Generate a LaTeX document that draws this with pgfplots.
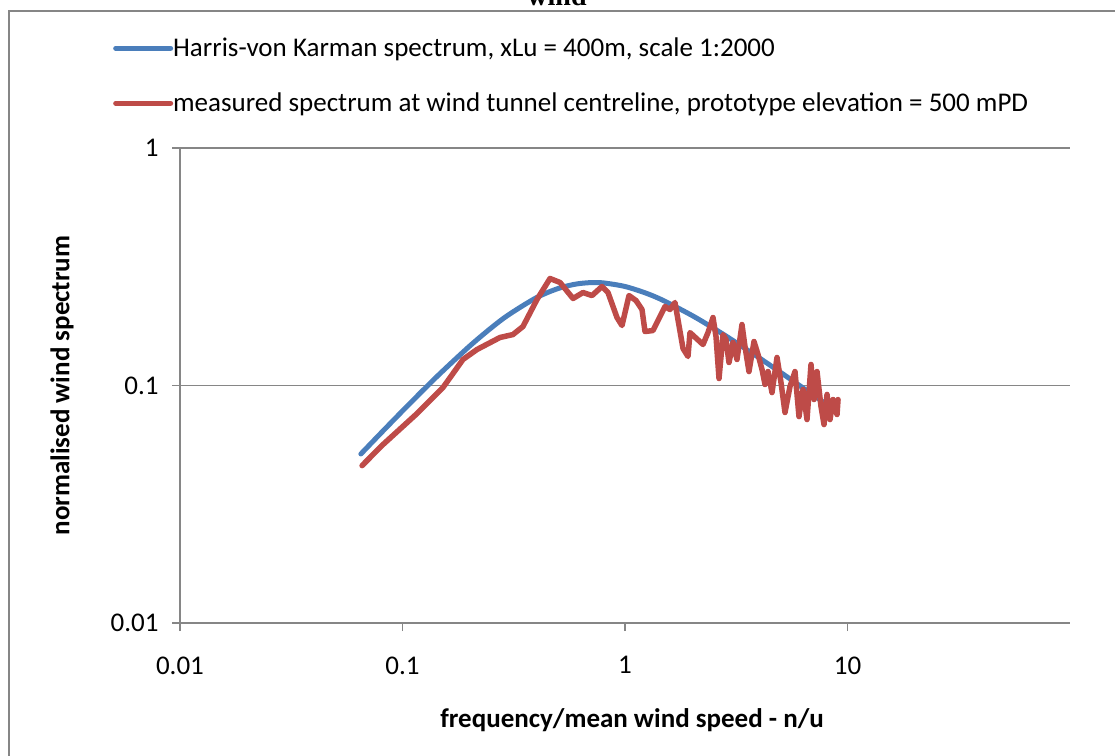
\documentclass[border=0pt]{standalone}
\usepackage{pgfplots}
\pgfplotsset{compat=1.18}
\usepackage{fontspec}
\setmainfont{Carlito}
\newfontfamily\titlefont{Liberation Serif}
\definecolor{hvkblue}{RGB}{74,126,187}
\definecolor{measred}{RGB}{190,75,72}
\definecolor{axgray}{RGB}{134,134,134}
\begin{document}
\begin{tikzpicture}[x=1pt,y=1pt]
\useasboundingbox (0,0) rectangle (1115,755);
\draw[axgray, line width=2.5pt] (9,-10) -- (9,744) -- (1125,744);
\node[anchor=base, font=\titlefont\bfseries\fontsize{28}{32}\selectfont] at (557,749) {wind};
\begin{axis}[
  at={(180pt,132pt)}, anchor=south west,
  scale only axis, width=890pt, height=475pt,
  xmode=log, ymode=log,
  xmin=0.01, xmax=100, ymin=0.01, ymax=1,
  axis lines*=left,
  axis line style={axgray, line width=1.5pt},
  xtick={0.01,0.1,1,10}, xticklabels={0.01,0.1,1,10},
  ytick={0.01,0.1,1}, yticklabels={0.01,0.1,1},
  minor xtick={}, minor ytick={},
  minor tick style={draw=none},
  tick align=outside, major tick length=8pt,
  tick style={axgray, line width=1.5pt},
  ymajorgrids, major grid style={axgray, line width=1.5pt},
  ticklabel style={font=\fontsize{27}{32}\selectfont},
  xticklabel style={yshift=-22pt},
  yticklabel style={xshift=-10pt},
  xlabel={frequency/mean wind speed - n/u},
  ylabel={normalised wind spectrum},
  label style={font=\bfseries\fontsize{27}{32}\selectfont},
  xlabel style={at={(axis description cs:0.508,-0.2042)}, anchor=center},
  ylabel style={at={(axis description cs:-0.1326,0.5)}, anchor=center},
  legend style={at={(axis description cs:-0.0753,1.150)}, anchor=west, draw=none, fill=none, inner sep=0pt, row sep=29pt,
    font=\fontsize{27}{32}\selectfont, cells={anchor=west},
    nodes={inner sep=0pt, text height=20pt, text depth=6pt},
    /tikz/every even column/.append style={column sep=2pt}},
  legend image code/.code={\draw[#1, line width=5pt] (0pt,1pt) -- (55pt,1pt);},
]
\addplot[hvkblue, line width=5pt, line cap=round, line join=round, smooth] coordinates {
(0.065,0.05149) (0.08,0.06305) (0.1,0.07816) (0.125,0.09646) (0.15,0.11398)
(0.2,0.14631) (0.25,0.1746) (0.3,0.19863) (0.4,0.23437) (0.5,0.25605)
(0.6,0.26722) (0.7,0.27114) (0.8,0.27037) (1.0,0.26115) (1.25,0.24435)
(1.5,0.22709) (2,0.19726) (2.5,0.17425) (3,0.15642) (4,0.13093)
(5,0.1136) (6,0.10093) (7,0.09128) (8,0.08362) (9,0.07738)
};
\addlegendentry{Harris-von Karman spectrum, xLu = 400m, scale 1:2000}
\addplot[measred, line width=5.5pt, line cap=round, line join=round] coordinates {
(0.0658,0.0460) (0.0817,0.0564) (0.1162,0.0762) (0.1521,0.0981) (0.1870,0.1287)
(0.2162,0.1418) (0.2743,0.1593) (0.3137,0.1639) (0.3479,0.1772) (0.4022,0.2302)
(0.4602,0.2822) (0.5104,0.2715) (0.5840,0.2325) (0.6475,0.2463) (0.7109,0.2392)
(0.7881,0.2611) (0.8387,0.2463) (0.9204,0.1933) (0.9694,0.1789) (1.0423,0.2392)
(1.1205,0.2279) (1.1924,0.2089) (1.2300,0.1688) (1.3356,0.1704) (1.5127,0.2151)
(1.5928,0.2089) (1.6775,0.2236) (1.8227,0.1432) (1.9193,0.1325) (1.9598,0.1671)
(2.2418,0.1488) (2.3605,0.1671) (2.4859,0.1933) (2.5645,0.1608) (2.6458,0.1070)
(2.7569,0.1639) (2.8438,0.1562) (2.9336,0.1250) (3.0579,0.1518) (3.1873,0.1287)
(3.3556,0.1806) (3.4616,0.1459) (3.6080,0.1145) (3.8000,0.1532) (3.9614,0.1351)
(4.1285,0.1168) (4.2586,0.1010) (4.3931,0.1145) (4.5781,0.0934) (4.8217,0.1312)
(5.0248,0.1029) (5.2373,0.0770) (5.5146,0.0990) (5.8076,0.1145) (6.0534,0.0740)
(6.3096,0.0962) (6.5766,0.0719) (6.8549,0.1226) (7.0706,0.0873) (7.2946,0.1145)
(7.6018,0.0816) (7.8433,0.0685) (8.0910,0.0917) (8.3445,0.0719) (8.6080,0.0873)
(8.9727,0.0755) (9.0674,0.0873)
};
\addlegendentry{measured spectrum at wind tunnel centreline, prototype elevation = 500 mPD}
\end{axis}
\end{tikzpicture}
\end{document}
